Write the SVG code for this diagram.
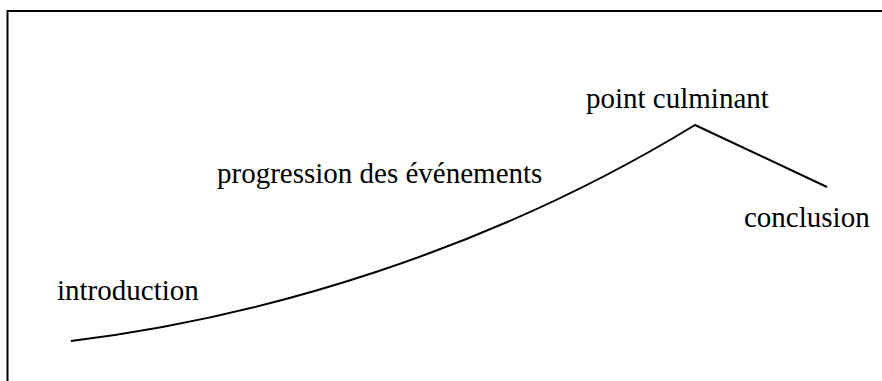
<svg xmlns="http://www.w3.org/2000/svg" width="882" height="381" viewBox="0 0 882 381">
<style>
.lbl{font-family:"Liberation Serif","Times New Roman",serif;font-size:29px;fill:#000}
.ln{fill:none;stroke:#000;stroke-width:2}
</style>
<rect width="882" height="381" fill="#fff"/>
<g id="frame"><path class="ln" d="M7.5,381 V11 H882"/></g>
<g id="connectors">
<path class="ln" d="M71,341 C260,318 487,252 695,125 L827,187"/>
</g>
<g id="introduction"><text class="lbl" x="57" y="300">introduction</text></g>
<g id="progression"><text class="lbl" x="217" y="183">progression des événements</text></g>
<g id="point-culminant"><text class="lbl" x="586" y="108">point culminant</text></g>
<g id="conclusion"><text class="lbl" x="744" y="227">conclusion</text></g>
</svg>
